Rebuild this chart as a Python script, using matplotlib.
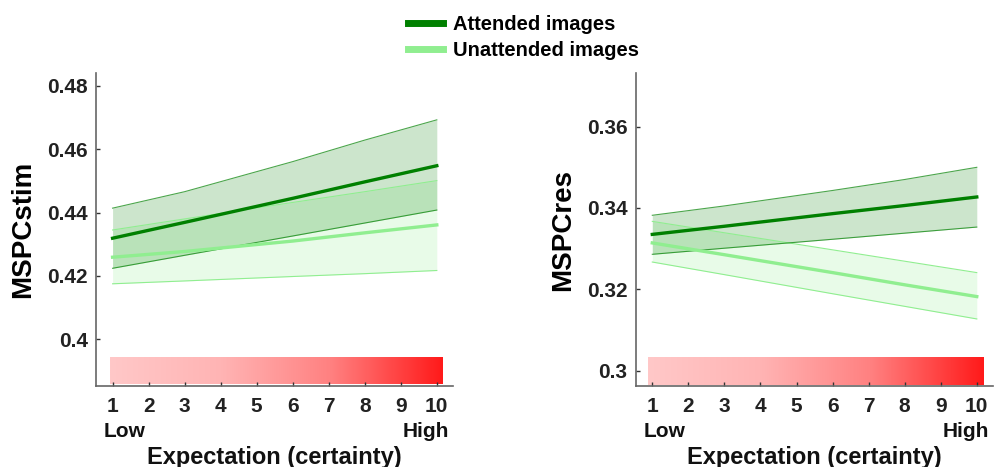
import matplotlib.pyplot as plt
import numpy as np
from matplotlib.colors import LinearSegmentedColormap
from matplotlib.lines import Line2D

plt.rcParams['font.family'] = ['Liberation Sans', 'DejaVu Sans']
plt.rcParams['font.weight'] = 'bold'

x_pts = [1, 3, 6, 8, 10]

# left panel: MSPCstim
stim_att_mean = [0.4319, 0.4369, 0.4445, 0.4497, 0.4548]
stim_att_hi = [0.4414, 0.4466, 0.4561, 0.4629, 0.4693]
stim_att_lo = [0.4224, 0.4265, 0.4326, 0.4367, 0.4408]
stim_un_mean = [0.4259, 0.4277, 0.4310, 0.4336, 0.4361]
stim_un_hi = [0.4345, 0.4380, 0.4432, 0.4466, 0.4501]
stim_un_lo = [0.4175, 0.4184, 0.4198, 0.4207, 0.4217]

# right panel: MSPCres
res_att_mean = [0.3335, 0.3355, 0.3386, 0.3406, 0.3427]
res_att_hi = [0.3382, 0.3405, 0.3443, 0.3470, 0.3500]
res_att_lo = [0.3286, 0.3301, 0.3323, 0.3338, 0.3353]
res_un_mean = [0.3314, 0.3285, 0.3241, 0.3211, 0.3182]
res_un_hi = [0.3367, 0.3339, 0.3297, 0.3269, 0.3241]
res_un_lo = [0.3267, 0.3236, 0.3189, 0.3158, 0.3127]

xticks = list(range(1, 11))
att_col = '#008000'
un_col = '#90ee90'
red_cmap = LinearSegmentedColormap.from_list(
    'cert', ['#ffc8c8', '#ffb4b4', '#ff8080', '#ff1a1a'])

fig = plt.figure(figsize=(9.95, 4.67), dpi=100)
ax1 = fig.add_axes([0.0965, 0.1734, 0.3588, 0.6703])
ax2 = fig.add_axes([0.6389, 0.1734, 0.3591, 0.6703])


def panel(ax, am, ah, al, um, uh, ul, ylim, yticks, ytl, ylabel, bar):
    ax.fill_between(x_pts, ul, uh, color=un_col, alpha=0.2, lw=0)
    ax.plot(x_pts, uh, color=un_col, lw=0.8)
    ax.plot(x_pts, ul, color=un_col, lw=0.8)
    ax.fill_between(x_pts, al, ah, color=att_col, alpha=0.2, lw=0)
    ax.plot(x_pts, ah, color=att_col, lw=0.8, alpha=0.7)
    ax.plot(x_pts, al, color=att_col, lw=0.8, alpha=0.7)
    ax.plot(x_pts, um, color=un_col, lw=2.4)
    ax.plot(x_pts, am, color=att_col, lw=2.4)
    grad = np.linspace(0, 1, 256).reshape(1, -1)
    ax.imshow(grad, cmap=red_cmap, aspect='auto', extent=bar, zorder=0)
    ax.set_xlim(0.54, 10.45)
    ax.set_ylim(*ylim)
    ax.set_yticks(yticks)
    ax.set_yticklabels(ytl)
    ax.set_xticks(xticks)
    ax.set_xticklabels([str(v) for v in xticks])
    for s in ['top', 'right']:
        ax.spines[s].set_visible(False)
    for s in ['left', 'bottom']:
        ax.spines[s].set_color('#666666')
        ax.spines[s].set_linewidth(1.2)
    ax.tick_params(direction='in', length=3, width=1, color='#333333',
                   labelsize=15, colors='#222222')
    ax.tick_params(axis='x', pad=8)
    ax.tick_params(axis='y', pad=6)
    for lab in ax.get_xticklabels() + ax.get_yticklabels():
        lab.set_fontweight('bold')
    ax.set_ylabel(ylabel, fontsize=20, fontweight='bold', labelpad=8)
    tr = ax.get_xaxis_transform()
    ax.text(0.75, -0.114, 'Low', transform=tr, ha='left', va='top',
            fontsize=15, fontweight='bold', color='#111111')
    ax.text(10.35, -0.114, 'High', transform=tr, ha='right', va='top',
            fontsize=15, fontweight='bold', color='#111111')
    ax.text(5.5, -0.227, 'Expectation (certainty)', transform=tr,
            ha='center', va='center', fontsize=17, fontweight='bold',
            color='#111111')


panel(ax1, stim_att_mean, stim_att_hi, stim_att_lo,
      stim_un_mean, stim_un_hi, stim_un_lo,
      (0.3852, 0.4841), [0.40, 0.42, 0.44, 0.46, 0.48],
      ['0.4', '0.42', '0.44', '0.46', '0.48'], 'MSPCstim',
      [0.93, 10.15, 0.3859, 0.3943])
panel(ax2, res_att_mean, res_att_hi, res_att_lo,
      res_un_mean, res_un_hi, res_un_lo,
      (0.2962, 0.3732), [0.30, 0.32, 0.34, 0.36],
      ['0.3', '0.32', '0.34', '0.36'], 'MSPCres',
      [0.88, 10.18, 0.2965, 0.3032])

handles = [Line2D([], [], color=att_col, lw=5),
           Line2D([], [], color=un_col, lw=5)]
fig.legend(handles, ['Attended images', 'Unattended images'],
           loc='center', bbox_to_anchor=(0.526, 0.919), frameon=False,
           prop={'size': 14.5, 'weight': 'bold'}, handlelength=1.75,
           labelspacing=0.35, handletextpad=0.5)

fig.savefig('out.png', dpi=100)
